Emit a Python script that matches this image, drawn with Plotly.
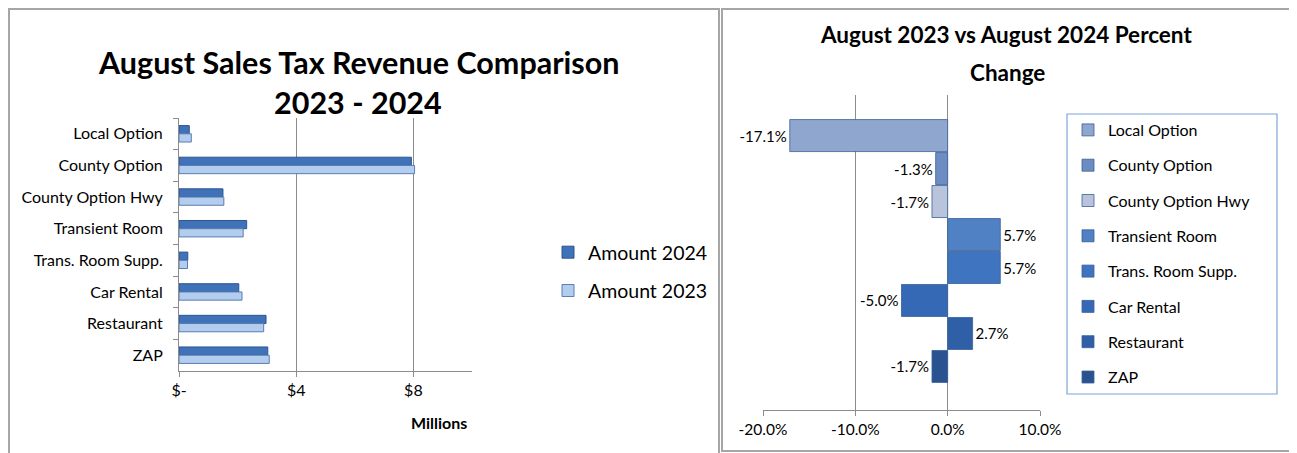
import plotly.graph_objects as go

W, H = 1297, 453
OFF = 8  # page body offset

# ---------------- data ----------------
categories = ["Local Option", "County Option", "County Option Hwy", "Transient Room",
              "Trans. Room Supp.", "Car Rental", "Restaurant", "ZAP"]
amount_2024 = [0.35, 7.93, 1.50, 2.31, 0.30, 2.04, 2.97, 3.03]   # $ millions
amount_2023 = [0.42, 8.04, 1.53, 2.19, 0.29, 2.15, 2.89, 3.08]   # $ millions
pct_change = [-17.1, -1.3, -1.7, 5.7, 5.7, -5.0, 2.7, -1.7]       # percent
left_tick_vals = [0, 4, 8]
left_tick_text = ["$-", "$4", "$8"]
right_tick_vals = [-20, -10, 0, 10]
right_tick_text = ["-20.0%", "-10.0%", "0.0%", "10.0%"]

pct_colors = ["#8fa6cf", "#6d8cc2", "#b9c3dc", "#4f81c4",
              "#3f75c0", "#3569b5", "#2f5fa6", "#2a5290"]

FONT = "Lato"

def px(x):
    return (x - OFF) / W

def py(y):
    return 1 - (y - OFF) / H

fig = go.Figure()

# ---------------- left chart ----------------
fig.add_trace(go.Bar(
    y=categories, x=amount_2024, orientation="h", name="Amount 2024",
    marker=dict(color="#3f72b9", line=dict(color="#2b568e", width=1)),
    xaxis="x", yaxis="y", legend="legend", legendgroup="a24",
    hoverinfo="skip"))
fig.add_trace(go.Bar(
    y=categories, x=amount_2023, orientation="h", name="Amount 2023",
    marker=dict(color="#b3cdee", line=dict(color="#5a7db3", width=1)),
    xaxis="x", yaxis="y", legend="legend", legendgroup="a23",
    hoverinfo="skip"))

# ---------------- right chart ----------------
for i, (cat, val) in enumerate(zip(categories, pct_change)):
    fig.add_trace(go.Bar(
        y=[i], x=[val], orientation="h", name=cat,
        offset=-0.485, width=0.97,
        marker=dict(color=pct_colors[i], line=dict(color="#3a5f96", width=0.8)),
        text=[f"{val:.1f}%"], textposition="outside", cliponaxis=False,
        textfont=dict(family=FONT, size=15, color="#000"),
        xaxis="x2", yaxis="y2", legend="legend2", legendgroup=f"p{i}",
        hoverinfo="skip"))

grid_c = "#8c8c8c"

fig.update_layout(
    width=W, height=H,
    margin=dict(l=0, r=0, t=0, b=0, pad=0, autoexpand=False),
    paper_bgcolor="white", plot_bgcolor="white",
    barmode="group", bargap=0.48, bargroupgap=0.0,
    font=dict(family=FONT, size=14, color="#000"),
    xaxis=dict(domain=[px(179), px(472)], range=[0, 10],
               tickvals=left_tick_vals, ticktext=left_tick_text,
               showgrid=True, gridcolor=grid_c, gridwidth=1,
               showline=True, linecolor=grid_c, linewidth=1,
               ticks="outside", ticklen=5, tickcolor=grid_c,
               tickfont=dict(size=16), zeroline=False, anchor="y",
               automargin=False),
    yaxis=dict(domain=[py(371), py(118)], autorange="reversed",
               type="category", showgrid=False,
               showline=True, linecolor=grid_c, linewidth=1,
               ticks="outside", ticklen=5, tickcolor=grid_c,
               tickson="boundaries", ticklabelstandoff=12,
               tickfont=dict(size=16), anchor="x", automargin=False),
    xaxis2=dict(domain=[px(763), px(1040)], range=[-20, 10],
                tickvals=right_tick_vals, ticktext=right_tick_text,
                showgrid=True, gridcolor=grid_c, gridwidth=1,
                showline=True, linecolor=grid_c, linewidth=1,
                ticks="outside", ticklen=5, tickcolor=grid_c,
                tickfont=dict(size=15.5), zeroline=False, anchor="y2",
                automargin=False),
    yaxis2=dict(domain=[py(410), py(95)], range=[8.32, -1.23],
                showgrid=False, showticklabels=False, zeroline=False,
                showline=False, anchor="x2", automargin=False),
    legend=dict(x=px(548), y=py(233), xanchor="left", yanchor="top",
                font=dict(size=19.5), bgcolor="rgba(0,0,0,0)",
                tracegroupgap=10, traceorder="grouped"),
    legend2=dict(x=px(1068), y=py(113), xanchor="left", yanchor="top",
                 font=dict(size=16), bgcolor="rgba(0,0,0,0)",
                 tracegroupgap=11.5, traceorder="grouped"),
)

# titles
fig.add_annotation(x=px(358), y=py(62), xref="paper", yref="paper", showarrow=False,
                   text="<b>August Sales Tax Revenue Comparison</b>",
                   font=dict(size=30.5), xanchor="center", yanchor="middle")
fig.add_annotation(x=px(358), y=py(102), xref="paper", yref="paper", showarrow=False,
                   text="<b>2023 - 2024</b>",
                   font=dict(size=30.5), xanchor="center", yanchor="middle")
fig.add_annotation(x=px(1006), y=py(35), xref="paper", yref="paper", showarrow=False,
                   text="<b>August 2023 vs August 2024 Percent</b>",
                   font=dict(size=22.5), xanchor="center", yanchor="middle")
fig.add_annotation(x=px(1008), y=py(72), xref="paper", yref="paper", showarrow=False,
                   text="<b>Change</b>",
                   font=dict(size=22.5), xanchor="center", yanchor="middle")
fig.add_annotation(x=px(439), y=py(422), xref="paper", yref="paper", showarrow=False,
                   text="<b>Millions</b>", font=dict(size=16),
                   xanchor="center", yanchor="middle")

# panel borders and legend box
fig.add_shape(type="rect", xref="paper", yref="paper",
              x0=px(OFF + 1), x1=px(719), y0=py(470), y1=py(OFF + 1),
              line=dict(color="#a6a6a6", width=2), layer="above")
fig.add_shape(type="rect", xref="paper", yref="paper",
              x0=px(722), x1=px(1295), y0=py(451), y1=py(OFF + 1),
              line=dict(color="#a6a6a6", width=2), layer="above")
fig.add_shape(type="rect", xref="paper", yref="paper",
              x0=px(1067), x1=px(1277), y0=py(394), y1=py(114),
              line=dict(color="#7fa4d8", width=1.2), layer="above")

fig.write_html("out.html")
